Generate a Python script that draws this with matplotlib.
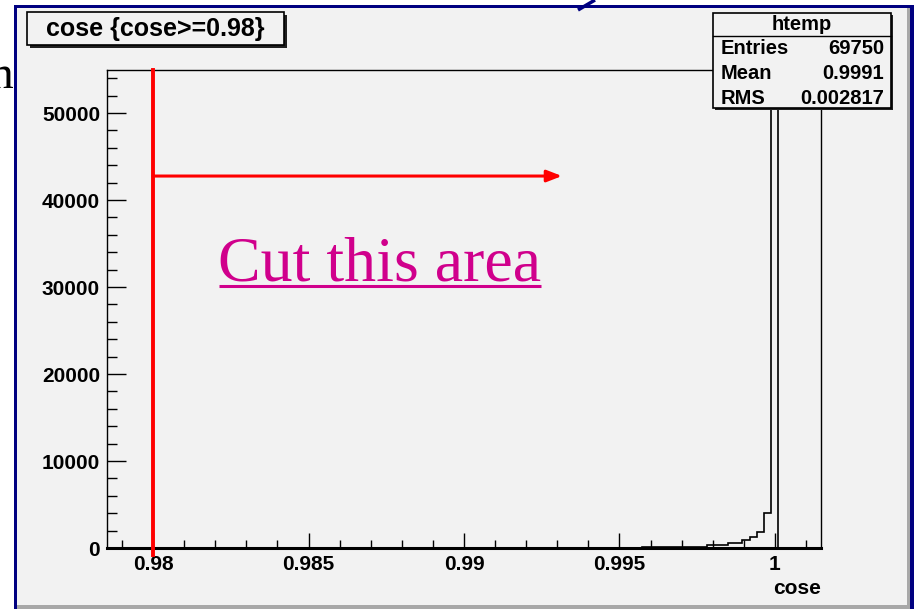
import numpy as np
import matplotlib.pyplot as plt
from matplotlib.patches import Rectangle
from matplotlib.ticker import MultipleLocator, FuncFormatter

W, H = 914, 609
DPI = 100

# histogram "htemp" of cose, 100 bins, only the tail close to 1 is filled
x_lo, x_hi = 0.97852, 1.00148
n_bins = 100
first_bin = 70
tail_counts = [20, 30, 40, 40, 50, 60, 70, 80, 90, 100, 110, 120, 140, 150,
               320, 330, 350, 600, 620, 920, 1310, 1870, 4050, 58900]

y_top = 54950
stat_names = ['Entries', 'Mean', 'RMS']
stat_values = ['69750', '0.9991', '0.002817']
hist_name = 'htemp'
title = 'cose {cose>=0.98}'
cut_value = 0.98
arrow_end = 0.99315
arrow_y = 42760
label_x = 0.98209
label_y = 30800

CANVAS = '#f2f2f2'
NAVY = '#000080'
SANS = 'Liberation Sans'
SERIF = 'Liberation Serif'


fig = plt.figure(figsize=(W / DPI, H / DPI), dpi=DPI)
fig.patch.set_facecolor('white')

# background: slide frame and ROOT canvas, in pixel coordinates
bg = fig.add_axes([0, 0, 1, 1], zorder=0)
bg.set_xlim(0, W)
bg.set_ylim(H, 0)
bg.axis('off')
bg.add_patch(Rectangle((17, 8), 893, 601, facecolor='#a8a8a8', edgecolor='none'))
bg.add_patch(Rectangle((17, 8), 890, 597, facecolor=CANVAS, edgecolor='none'))
bg.add_patch(Rectangle((14, 5), 3, 604, facecolor=NAVY, edgecolor='none'))
bg.add_patch(Rectangle((14, 5), 900, 3, facecolor=NAVY, edgecolor='none'))
bg.add_patch(Rectangle((910, 5), 4, 604, facecolor=NAVY, edgecolor='none'))
bg.plot([578, 595], [10, 0], color=NAVY, lw=2.5, solid_capstyle='butt')
# tail of a word from the slide behind the canvas
bg.text(14, 88, 'n', family=SERIF, fontsize=34, ha='right', va='baseline', color='black')

# main histogram frame
left, top, right, bottom = 107, 70, 821, 548
ax = fig.add_axes([left / W, 1 - bottom / H, (right - left) / W, (bottom - top) / H], zorder=1)
ax.set_facecolor('none')

edges = np.linspace(x_lo, x_hi, n_bins + 1)
counts = np.zeros(n_bins)
counts[first_bin:first_bin + len(tail_counts)] = tail_counts
ax.stairs(counts, edges, color='black', lw=1.2)

ax.set_xlim(x_lo, x_hi)
ax.set_ylim(0, y_top)
ax.xaxis.set_major_locator(MultipleLocator(0.005))
ax.xaxis.set_minor_locator(MultipleLocator(0.001))
ax.yaxis.set_major_locator(MultipleLocator(10000))
ax.yaxis.set_minor_locator(MultipleLocator(2000))
ax.xaxis.set_major_formatter(FuncFormatter(lambda v, p: '%g' % round(v, 4)))
ax.yaxis.set_major_formatter(FuncFormatter(lambda v, p: '%d' % v))
ax.tick_params(axis='both', which='both', direction='in', top=False, right=False,
               color='black', width=1)
ax.tick_params(axis='y', which='major', length=14, pad=5)
ax.tick_params(axis='y', which='minor', length=7)
ax.tick_params(axis='x', which='major', length=11, pad=5)
ax.tick_params(axis='x', which='minor', length=6)
for lab in ax.get_xticklabels() + ax.get_yticklabels():
    lab.set_fontfamily(SANS)
    lab.set_fontweight('bold')
    lab.set_fontsize(15)
for name, sp in ax.spines.items():
    sp.set_linewidth(1.0)
ax.spines['bottom'].set_linewidth(2.2)
ax.set_xlabel('cose', loc='right', fontfamily=SANS, fontweight='bold', fontsize=15,
              labelpad=4)

# the cut: vertical line at 0.98 and arrow into the kept region
ax.plot([cut_value, cut_value], [-800, y_top], color='red', lw=2.8, clip_on=False, zorder=4)
ax.annotate('', xy=(arrow_end, arrow_y), xytext=(cut_value, arrow_y),
            arrowprops=dict(arrowstyle='-|>,head_length=0.9,head_width=0.35',
                            color='red', lw=2.2, shrinkA=0, shrinkB=0), zorder=4)
cut_txt = ax.text(label_x, label_y, 'Cut this area', family=SERIF, fontsize=46,
                  color='#d0008c', ha='left', va='baseline', zorder=4)

# overlay: title box and stats box, in pixel coordinates
ov = fig.add_axes([0, 0, 1, 1], zorder=3)
ov.set_xlim(0, W)
ov.set_ylim(H, 0)
ov.axis('off')

ov.add_patch(Rectangle((30, 15), 257, 33, facecolor='#202020', edgecolor='none'))
ov.add_patch(Rectangle((27, 12), 257, 33, facecolor=CANVAS, edgecolor='black', lw=1.2))
ov.text(155.5, 29, title, family=SANS, fontweight='bold', fontsize=18,
        ha='center', va='center')

bx0, by0, bx1, by1 = 713, 13, 891, 108
ov.add_patch(Rectangle((bx0 + 2, by0 + 2), bx1 - bx0, by1 - by0, facecolor='#202020', edgecolor='none'))
ov.add_patch(Rectangle((bx0, by0), bx1 - bx0, by1 - by0, facecolor=CANVAS, edgecolor='black', lw=1.2))
ov.plot([bx0, bx1], [36, 36], color='black', lw=1.0)
ov.text((bx0 + bx1) / 2, 25, hist_name, family=SANS, fontweight='bold', fontsize=14.5,
        ha='center', va='center')
for i, (nm, val) in enumerate(zip(stat_names, stat_values)):
    yy = 49 + i * 24.5
    ov.text(bx0 + 8, yy, nm, family=SANS, fontweight='bold', fontsize=14.5, ha='left', va='center')
    ov.text(bx1 - 7, yy, val, family=SANS, fontweight='bold', fontsize=14.5, ha='right', va='center')

# underline for the label
fig.canvas.draw()
bb = cut_txt.get_window_extent()
base = ax.transData.transform((label_x, label_y))[1]
inv = ov.transData.inverted()
x0, yu = inv.transform((bb.x0 + 1, base - 6))
x1, _ = inv.transform((bb.x1, base - 6))
ov.plot([x0, x1], [yu, yu], color='#d0008c', lw=2.2, solid_capstyle='butt')

fig.savefig('out.png', dpi=DPI)
